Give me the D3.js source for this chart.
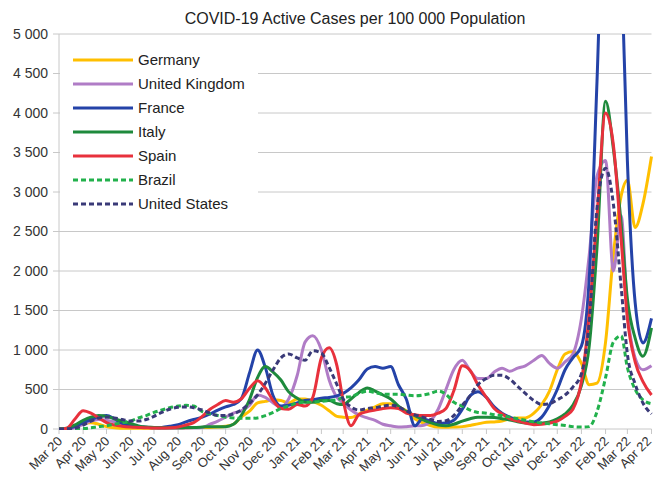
<!DOCTYPE html>
<html><head><meta charset="utf-8">
<script src="https://cdn.jsdelivr.net/npm/d3@7"></script>
<style>body{margin:0;background:#fff}svg{display:block}</style>
</head><body><svg id="c" width="654" height="480"></svg>
<script>
const dates = [
"2020-03-01","2020-03-11","2020-03-21","2020-04-01","2020-04-11","2020-04-21",
"2020-05-01","2020-05-11","2020-05-21","2020-06-01","2020-06-11","2020-06-21",
"2020-07-01","2020-07-11","2020-07-21","2020-08-01","2020-08-11","2020-08-21",
"2020-09-01","2020-09-11","2020-09-21","2020-10-01","2020-10-11","2020-10-21",
"2020-11-01","2020-11-11","2020-11-21","2020-12-01","2020-12-11","2020-12-21",
"2021-01-01","2021-01-11","2021-01-21","2021-02-01","2021-02-11","2021-02-21",
"2021-03-01","2021-03-11","2021-03-21","2021-04-01","2021-04-11","2021-04-21",
"2021-05-01","2021-05-11","2021-05-21","2021-06-01","2021-06-11","2021-06-21",
"2021-07-01","2021-07-11","2021-07-21","2021-08-01","2021-08-11","2021-08-21",
"2021-09-01","2021-09-11","2021-09-21","2021-10-01","2021-10-11","2021-10-21",
"2021-11-01","2021-11-11","2021-11-21","2021-12-01","2021-12-11","2021-12-21",
"2022-01-01","2022-01-11","2022-01-21","2022-02-01","2022-02-11","2022-02-21",
"2022-03-01","2022-03-11","2022-03-21","2022-04-01"];

const germany = [0,5,30, 70,80,60, 30,15,10, 8,8,8, 8,8,10, 12,15,18, 20,20,25, 35,60,150,
 230,330,350, 370,360,330, 380,380,350, 300,230,160, 150,145,190, 240,280,320, 320,280,230,
 130,80,45, 25,22,25, 30,45,65, 85,90,100, 130,140,140, 200,310,480, 750,950,980,
 830,560,580, 1100,2200,2950, 3150,2550,2850, 3450];
const unitedKingdom = [0,2,15, 60,100,120, 110,90,70, 50,35,25, 15,10,10, 10,12,15, 20,60,100,
 150,200,230, 300,430,400, 330,280,380, 680,1100,1180, 1000,620,400, 330,240,180, 140,110,60,
 40,25,30, 40,45,100, 250,500,750, 870,740,640, 640,720,770, 730,770,800, 870,930,830,
 770,850,950, 1400,2200,3200, 3400,2000,2700, 1500,900,750, 800];
const france = [0,5,30, 80,120,150, 170,130,70, 40,25,20, 15,20,35, 55,90,120, 150,190,240,
 280,310,380, 720,1000,780, 420,290,300, 330,360,370, 390,400,420, 450,520,620, 760,790,770,
 790,560,380, 40,130,100, 70,75,110, 250,420,470, 400,280,200, 150,110,90, 90,150,300,
 500,750,900, 1050,1900,4400, 7500,8000,6000, 3400,1600,1090, 1400];
const italy = [0,10,50, 110,150,170, 160,130,100, 70,40,25, 20,15,15, 15,18,20, 25,30,30,
 30,60,170, 380,650,790, 720,620,470, 390,340,340, 360,360,320, 310,380,460, 520,480,430,
 380,290,220, 170,120,80, 50,40,60, 100,130,150, 150,145,130, 115,90,75, 70,75,90,
 130,190,300, 550,1050,2300, 4150,3550,2600, 1650,1150,920, 1280];
const spain = [0,10,120, 230,200,140, 80,50,35, 25,20,15, 12,12,15, 25,50,80, 160,250,310,
 360,340,380, 520,610,520, 360,260,250, 310,290,400, 900,1030,800, 360,40,180, 220,240,260,
 270,260,200, 180,170,170, 200,260,480, 800,740,560, 400,260,190, 130,100,75, 55,60,75,
 100,160,250, 600,1450,2700, 4000,3600,2400, 1400,850,600, 430];
const brazil = [0,0,2, 5,15,30, 40,60,80, 100,140,170, 210,240,270, 290,300,290, 220,190,170,
 150,140,135, 135,140,170, 210,260,290, 330,340,340, 350,360,370, 400,410,450, 480,460,440,
 440,440,430, 420,430,450, 480,440,340, 290,240,210, 200,180,170, 150,130,110, 90,75,65,
 55,45,30, 25,30,220, 650,1100,1180, 780,500,370, 320];
const unitedStates = [0,2,10, 50,100,140, 150,140,120, 100,100,120, 160,210,250, 275,280,270, 240,200,170,
 170,190,240, 330,430,580, 750,900,950, 900,870,990, 960,780,560, 380,280,240, 260,270,290,
 300,280,230, 180,150,120, 95,105,170, 300,420,560, 640,680,680, 630,540,450, 360,310,320,
 370,430,530, 700,1350,2800, 3300,2850,1800, 950,570,330, 190];

const seriesNames = ["Germany","United Kingdom","France","Italy","Spain","Brazil","United States"];
const seriesValues = [germany, unitedKingdom, france, italy, spain, brazil, unitedStates];
const seriesColors = ["#ffbf00","#b07cc6","#2443a8","#1e8a3c","#e8313c","#22b14c","#3a3a78"];
const seriesDashed = [false,false,false,false,false,true,true];

const monthLabels = ["Mar 20","Apr 20","May 20","Jun 20","Jul 20","Aug 20","Sep 20","Oct 20","Nov 20","Dec 20",
 "Jan 21","Feb 21","Mar 21","Apr 21","May 21","Jun 21","Jul 21","Aug 21","Sep 21","Oct 21","Nov 21","Dec 21",
 "Jan 22","Feb 22","Mar 22","Apr 22"];
const yTicks = [0,500,1000,1500,2000,2500,3000,3500,4000,4500,5000];
const yTickLabels = ["0","500","1 000","1 500","2 000","2 500","3 000","3 500","4 000","4 500","5 000"];
const title = "COVID-19 Active Cases per 100 000 Population";

const FONT = "'Liberation Sans', Arial, sans-serif";
const svg = d3.select("#c");
const parse = d3.timeParse("%Y-%m-%d");
const dts = dates.map(parse);
const x = d3.scaleTime().domain([parse("2020-03-01"), parse("2022-04-01")]).range([59, 651.5]);
const y = d3.scaleLinear().domain([0, 5000]).range([429, 34]);

svg.append("text").attr("x", 355).attr("y", 24).attr("text-anchor", "middle")
  .attr("font-family", FONT).attr("font-size", 16).attr("fill", "#222").text(title);

// gridlines
svg.append("g").selectAll("line").data(yTicks).join("line")
  .attr("x1", 53).attr("x2", 651.5).attr("y1", d => y(d)).attr("y2", d => y(d))
  .attr("stroke", "#c8c8c8").attr("stroke-width", 1);
svg.append("line").attr("x1", 59).attr("x2", 59).attr("y1", 34).attr("y2", 429)
  .attr("stroke", "#c8c8c8");
// y labels
svg.append("g").selectAll("text").data(yTicks).join("text")
  .attr("x", 48).attr("y", d => y(d)).attr("dy", "0.35em").attr("text-anchor", "end")
  .attr("font-family", FONT).attr("font-size", 14).attr("fill", "#333")
  .text((d, i) => yTickLabels[i]);
// x ticks
const months = d3.timeMonth.range(parse("2020-03-01"), parse("2022-04-02"));
svg.append("g").selectAll("line").data(months).join("line")
  .attr("x1", d => x(d)).attr("x2", d => x(d)).attr("y1", 429).attr("y2", 434)
  .attr("stroke", "#c8c8c8");
svg.append("g").selectAll("text").data(months).join("text")
  .attr("transform", d => `translate(${Math.min(x(d) + 4, 652)},${442}) rotate(-45)`)
  .attr("text-anchor", "end").attr("font-family", FONT).attr("font-size", 13).attr("fill", "#333")
  .text((d, i) => monthLabels[i]);

// clip
svg.append("clipPath").attr("id", "clip").append("rect")
  .attr("x", 59).attr("y", 34).attr("width", 594).attr("height", 396);

const line = d3.line().x((d, i) => x(dts[i])).y(d => y(d)).curve(d3.curveMonotoneX);
const g = svg.append("g").attr("clip-path", "url(#clip)");
seriesValues.forEach((vals, k) => {
  g.append("path").attr("d", line(vals)).attr("fill", "none")
    .attr("stroke", seriesColors[k]).attr("stroke-width", 3)
    .attr("stroke-dasharray", seriesDashed[k] ? "5,3" : null)
    .attr("stroke-linejoin", "round");
});

// legend
const lg = svg.append("g");
lg.append("rect").attr("x", 60).attr("y", 42).attr("width", 198).attr("height", 176).attr("fill", "#fff");
seriesNames.forEach((name, k) => {
  const yy = 60 + k * 24;
  lg.append("line").attr("x1", 73).attr("x2", 133).attr("y1", yy).attr("y2", yy)
    .attr("stroke", seriesColors[k]).attr("stroke-width", 3)
    .attr("stroke-dasharray", seriesDashed[k] ? "5,3" : null);
  lg.append("text").attr("x", 138).attr("y", yy).attr("dy", "0.35em")
    .attr("font-family", FONT).attr("font-size", 15).attr("fill", "#222").text(name);
});
</script></body></html>
